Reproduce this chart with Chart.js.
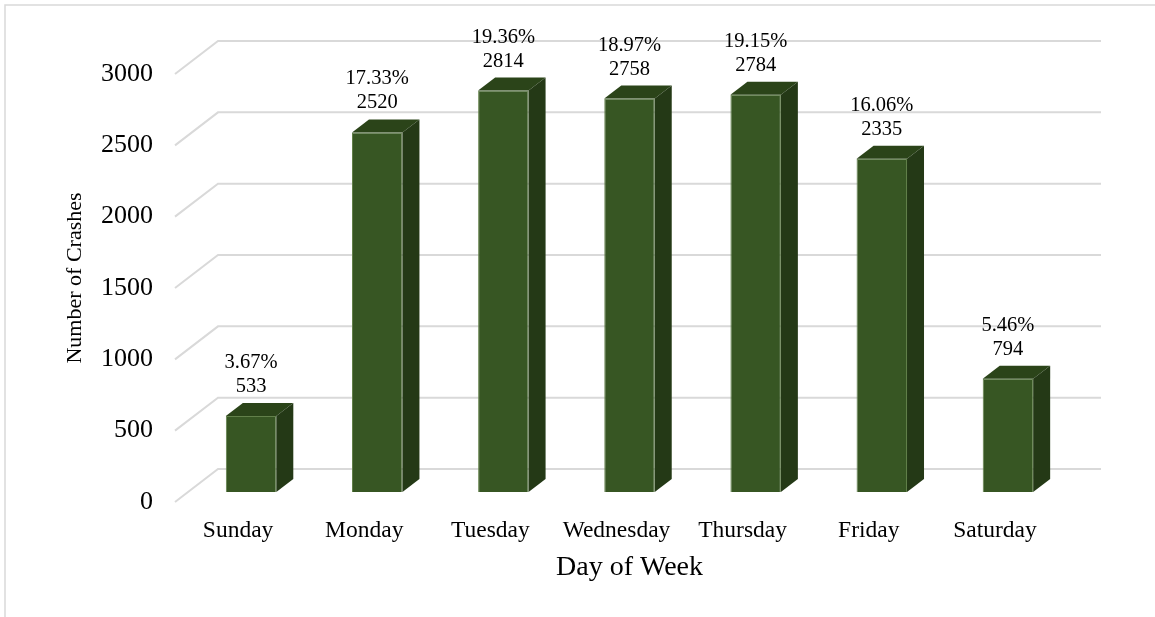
<!DOCTYPE html>
<html>
<head>
<meta charset="utf-8">
<title>Number of Crashes by Day of Week</title>
<script src="https://cdn.jsdelivr.net/npm/chart.js@4.4.0/dist/chart.umd.min.js"></script>
<style>
    html, body { margin: 0; padding: 0; background: #ffffff; }
    #wrap { width: 1155px; height: 617px; }
</style>
</head>
<body>
<div id="wrap"><canvas id="crash-chart" width="1155" height="617"></canvas></div>
<script>
// Données
const days = ["Sunday", "Monday", "Tuesday", "Wednesday", "Thursday", "Friday", "Saturday"];
const crashes = [533, 2520, 2814, 2758, 2784, 2335, 794];
const shares = ["3.67%", "17.33%", "19.36%", "18.97%", "19.15%", "16.06%", "5.46%"];
const yTicks = [0, 500, 1000, 1500, 2000, 2500, 3000];

// Couleurs des faces de la barre 3D
const frontColor = "#375623";
const topColor = "#2b4419";
const sideColor = "#243916";
const gridColor = "#d9d9d9";

// Décalages de perspective (en pixels)
const BAR_DX = 17, BAR_DY = 13;     // profondeur d'une barre
const BACK_DX = 30, BACK_DY = 23;   // du devant des barres au mur du fond
const FRONT_DX = -13, FRONT_DY = 10; // du devant des barres au bord avant

Chart.defaults.font.family = '"Liberation Serif", "Times New Roman", serif';
Chart.defaults.color = "#000000";

const depthPlugin = {
    id: "depth3d",
    beforeDraw(chart) {
        const ctx = chart.ctx;
        ctx.save();
        ctx.strokeStyle = gridColor;
        ctx.lineWidth = 1.5;
        ctx.strokeRect(5, 5, 1300, 800);
        ctx.restore();
    },
    beforeDatasetsDraw(chart) {
        const { ctx, chartArea, scales: { y } } = chart;
        ctx.save();
        ctx.strokeStyle = gridColor;
        ctx.lineWidth = 2;
        y.ticks.forEach(t => {
            const py = y.getPixelForValue(t.value);
            ctx.beginPath();
            ctx.moveTo(chartArea.left + FRONT_DX, py + FRONT_DY);
            ctx.lineTo(chartArea.left + BACK_DX, py - BACK_DY);
            ctx.lineTo(chartArea.right + BACK_DX, py - BACK_DY);
            ctx.stroke();
        });
        ctx.restore();
    },
    afterDatasetsDraw(chart) {
        const ctx = chart.ctx;
        const meta = chart.getDatasetMeta(0);
        ctx.save();
        meta.data.forEach((bar, i) => {
            const { x, y, base, width } = bar.getProps(["x", "y", "base", "width"], true);
            const l = x - width / 2, r = x + width / 2;

            // face du dessus
            ctx.fillStyle = topColor;
            ctx.beginPath();
            ctx.moveTo(l, y);
            ctx.lineTo(l + BAR_DX, y - BAR_DY);
            ctx.lineTo(r + BAR_DX, y - BAR_DY);
            ctx.lineTo(r, y);
            ctx.closePath();
            ctx.fill();

            // face de côté
            ctx.fillStyle = sideColor;
            ctx.beginPath();
            ctx.moveTo(r, y);
            ctx.lineTo(r + BAR_DX, y - BAR_DY);
            ctx.lineTo(r + BAR_DX, base - BAR_DY);
            ctx.lineTo(r, base);
            ctx.closePath();
            ctx.fill();

            // étiquettes de données
            ctx.fillStyle = "#000000";
            ctx.font = '20.5px "Liberation Serif", "Times New Roman", serif';
            ctx.textAlign = "center";
            ctx.textBaseline = "alphabetic";
            ctx.fillText(String(crashes[i]), x, y - 24);
            ctx.fillText(shares[i], x, y - 48);
        });
        ctx.restore();
    }
};

const ctx = document.getElementById("crash-chart").getContext("2d");

new Chart(ctx, {
    type: "bar",
    data: {
        labels: days,
        datasets: [{
            label: "Number of Crashes",
            data: crashes,
            backgroundColor: frontColor,
            borderColor: "#62804a",
            borderWidth: 1,
            categoryPercentage: 1.0,
            barPercentage: 0.4,
        }]
    },
    options: {
        responsive: false,
        animation: false,
        layout: {
            padding: { left: 0, top: 64, right: 84, bottom: 0 }
        },
        plugins: {
            legend: { display: false },
            tooltip: { enabled: false },
        },
        scales: {
            x: {
                afterFit(scale) { scale.height = 125; },
                grid: { display: false, drawTicks: false },
                border: { display: false },
                ticks: {
                    padding: 25,
                    labelOffset: FRONT_DX,
                    font: { size: 23.5 },
                    color: "#000000",
                },
                title: {
                    display: true,
                    text: "Day of Week",
                    font: { size: 28 },
                    color: "#000000",
                    padding: { top: 0, bottom: 33 },
                },
            },
            y: {
                min: 0,
                max: 3000,
                afterBuildTicks(scale) {
                    scale.ticks = yTicks.map(v => ({ value: v }));
                },
                afterFit(scale) { scale.width = 188; },
                grid: { display: false, drawTicks: false },
                border: { display: false },
                ticks: {
                    padding: 35,
                    labelOffset: FRONT_DY,
                    font: { size: 26 },
                    color: "#000000",
                    callback: value => String(value),
                },
                title: {
                    display: true,
                    text: "Number of Crashes",
                    font: { size: 22 },
                    color: "#000000",
                    padding: { top: 62, bottom: 0 },
                },
            },
        },
    },
    plugins: [depthPlugin],
});
</script>
</body>
</html>
